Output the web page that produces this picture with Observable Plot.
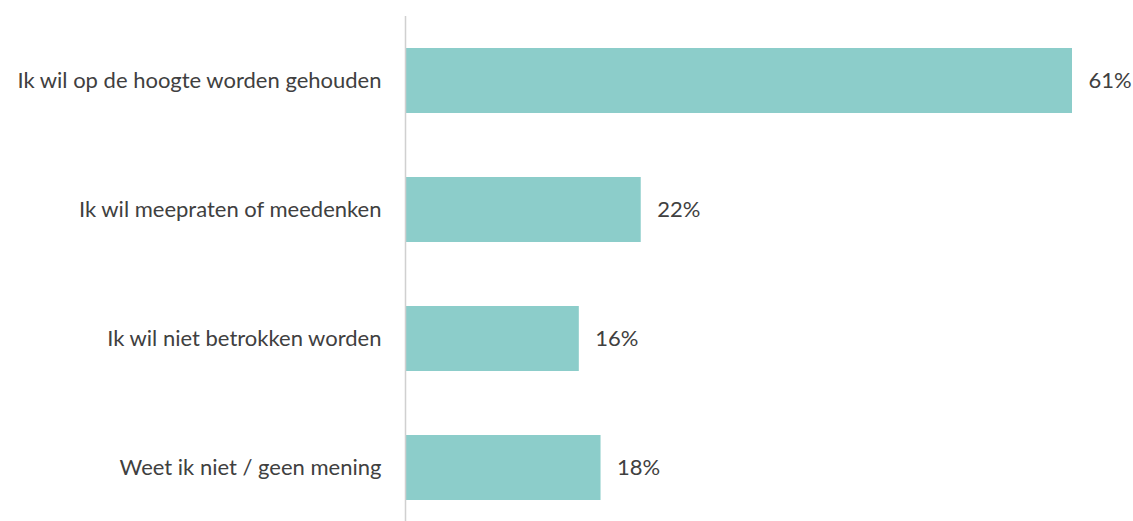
<!DOCTYPE html>
<html>
<head>
<meta charset="utf-8">
<script src="https://cdn.jsdelivr.net/npm/d3@7"></script>
<script src="https://cdn.jsdelivr.net/npm/@observablehq/plot@0.6"></script>
<style>
  html, body { margin: 0; padding: 0; background: #fff; }
</style>
</head>
<body>
<div id="chart"></div>
<script>
const categories = [
  "Ik wil op de hoogte worden gehouden",
  "Ik wil meepraten of meedenken",
  "Ik wil niet betrokken worden",
  "Weet ik niet / geen mening"
];
const values = [61.4, 21.7, 16.0, 18.0];
const valueLabels = ["61%", "22%", "16%", "18%"];

const data = categories.map((c, i) => ({category: c, value: values[i], label: valueLabels[i]}));

const chart = Plot.plot({
  width: 1133,
  height: 521,
  marginLeft: 405,
  marginRight: 61,
  marginTop: 16,
  marginBottom: 0,
  style: {fontFamily: "Lato, sans-serif", fontSize: "22px", color: "#404040", background: "#fff"},
  x: {domain: [0, 61.4], axis: null},
  y: {domain: categories, range: [15.7, 532.5], paddingInner: 0.5, paddingOuter: 0.25, label: null, tickSize: 0, tickPadding: 24},
  marks: [
    Plot.barX(data, {x: "value", y: "category", fill: "#8CCDCA"}),
    Plot.text(data, {x: "value", y: "category", text: "label", textAnchor: "start", dx: 16, fill: "#404040", fontSize: 22}),
    Plot.ruleX([0], {stroke: "#d0d0d0", strokeWidth: 1.5}),
    Plot.axisY({tickSize: 0, tickPadding: 24, label: null, fontSize: 22, fill: "#404040"})
  ]
});
document.getElementById("chart").appendChild(chart);
</script>
</body>
</html>
